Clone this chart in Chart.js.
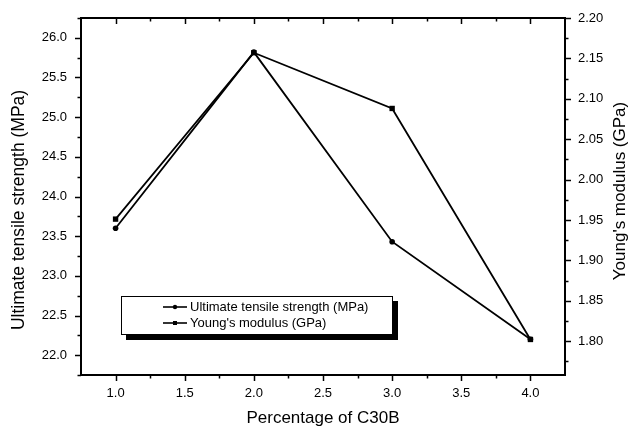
<!DOCTYPE html>
<html><head><meta charset="utf-8">
<script src="https://cdn.jsdelivr.net/npm/chart.js@4/dist/chart.umd.min.js"></script>
<style>html,body{margin:0;padding:0;background:#fff}#wrap{width:632px;height:430px;position:relative}</style>
</head><body><div id="wrap"><canvas id="c" width="632" height="430"></canvas></div>
<script>
const categories = [1.0, 2.0, 3.0, 4.0];
const tensileStrength = [23.6, 25.82, 23.43, 22.2];
const youngsModulus = [1.951, 2.157, 2.088, 1.802];
const xTickValues = [1.0, 1.5, 2.0, 2.5, 3.0, 3.5, 4.0];
const leftTickValues = [22.0, 22.5, 23.0, 23.5, 24.0, 24.5, 25.0, 25.5, 26.0];
const rightTickValues = [1.80, 1.85, 1.90, 1.95, 2.00, 2.05, 2.10, 2.15, 2.20];
const seriesNames = ['Ultimate tensile strength (MPa)', "Young's modulus (GPa)"];
const xTitle = 'Percentage of C30B';
const leftTitle = 'Ultimate tensile strength (MPa)';
const rightTitle = "Young's modulus (GPa)";

const FONT = "'Liberation Sans', Arial, sans-serif";

const framePlugin = {
  id: 'frame',
  afterDraw(chart) {
    const ctx = chart.ctx, a = chart.chartArea;
    const sx = chart.scales.x, sy = chart.scales.y, sy2 = chart.scales.y2;
    ctx.save();
    ctx.strokeStyle = '#000';
    const seg = (x1, y1, x2, y2) => { ctx.beginPath(); ctx.moveTo(x1, y1); ctx.lineTo(x2, y2); ctx.stroke(); };
    // top frame line
    ctx.lineWidth = 2;
    seg(a.left - 1, a.top, a.right + 1, a.top);
    ctx.lineWidth = 1.5;
    const MAJ = 6, MIN = 3.5;
    // x ticks (bottom outward, top inward)
    for (let k = Math.ceil(sx.min / 0.25 - 1e-6); k <= Math.floor(sx.max / 0.25 + 1e-6); k++) {
      const v = k * 0.25, px = Math.round(sx.getPixelForValue(v)) + 0.5;
      const L = (k % 2 === 0) ? MAJ : MIN;
      if (px < a.left + 1 || px > a.right - 1) continue;
      seg(px, a.bottom, px, a.bottom + L);
      seg(px, a.top, px, a.top + L);
    }
    // left ticks outward
    for (let k = Math.ceil(sy.min / 0.25 - 1e-6); k <= Math.floor(sy.max / 0.25 + 1e-6); k++) {
      const v = k * 0.25, py = Math.round(sy.getPixelForValue(v)) + 0.5;
      const L = (k % 2 === 0) ? MAJ : MIN;
      seg(a.left, py, a.left - L, py);
    }
    // right ticks outward
    for (let k = Math.ceil(sy2.min / 0.025 - 1e-6); k <= Math.floor(sy2.max / 0.025 + 1e-6); k++) {
      const v = k * 0.025, py = Math.round(sy2.getPixelForValue(v)) + 0.5;
      const L = (k % 2 === 0) ? MAJ : MIN;
      seg(a.right, py, a.right + L, py);
    }
    // vertical titles (both read bottom-to-top)
    ctx.fillStyle = '#000';
    ctx.textAlign = 'center';
    ctx.textBaseline = 'middle';
    ctx.font = '17.5px ' + FONT;
    ctx.save(); ctx.translate(19, 210); ctx.rotate(-Math.PI / 2); ctx.fillText(leftTitle, 0, 0); ctx.restore();
    ctx.font = '17px ' + FONT;
    ctx.save(); ctx.translate(620, 191); ctx.rotate(-Math.PI / 2); ctx.fillText(rightTitle, 0, 0); ctx.restore();

    // legend with shadow
    const bx = 121, by = 296, bw = 272, bh = 39;
    ctx.fillStyle = '#000';
    ctx.fillRect(bx + 5, by + 5, bw, bh);
    ctx.fillStyle = '#fff';
    ctx.fillRect(bx, by, bw, bh);
    ctx.lineWidth = 1;
    ctx.strokeStyle = '#000';
    ctx.strokeRect(bx + 0.5, by + 0.5, bw - 1, bh - 1);
    ctx.font = '13px ' + FONT;
    ctx.textAlign = 'left';
    ctx.textBaseline = 'middle';
    chart.data.datasets.forEach((ds, i) => {
      const yy = 307 + i * 16;
      ctx.strokeStyle = ds.borderColor;
      ctx.lineWidth = 1.6;
      seg(163, yy, 187, yy);
      ctx.fillStyle = '#000';
      if (ds.pointStyle === 'rect') { ctx.fillRect(173, yy - 2, 4, 4); }
      else { ctx.beginPath(); ctx.arc(175, yy, 2.2, 0, Math.PI * 2); ctx.fill(); }
      ctx.fillStyle = '#000';
      ctx.fillText(ds.label, 190, yy + 0.5);
    });
    ctx.restore();
  }
};

const tickFont = { family: FONT, size: 13 };
const noPad = s => { s.paddingTop = 0; s.paddingBottom = 0; s.paddingLeft = 0; s.paddingRight = 0; };

new Chart(document.getElementById('c'), {
  type: 'line',
  data: {
    datasets: [
      {
        label: seriesNames[0],
        data: categories.map((c, i) => ({ x: c, y: tensileStrength[i] })),
        yAxisID: 'y', borderColor: '#000', backgroundColor: '#000', borderWidth: 1.8,
        pointStyle: 'circle', pointRadius: 2.8, pointBackgroundColor: '#000', pointBorderWidth: 0,
        tension: 0, fill: false
      },
      {
        label: seriesNames[1],
        data: categories.map((c, i) => ({ x: c, y: youngsModulus[i] })),
        yAxisID: 'y2', borderColor: '#000', backgroundColor: '#000', borderWidth: 1.8,
        pointStyle: 'rect', pointRadius: 3.8, pointBackgroundColor: '#000', pointBorderWidth: 0,
        tension: 0, fill: false
      }
    ]
  },
  options: {
    responsive: false, animation: false, devicePixelRatio: 1,
    layout: { padding: { top: 18, left: 0, right: 0, bottom: 0 } },
    plugins: { legend: { display: false }, tooltip: { enabled: false } },
    scales: {
      x: {
        type: 'linear', position: 'bottom', min: 0.75, max: 4.25,
        afterBuildTicks: s => { s.ticks = xTickValues.map(v => ({ value: v })); },
        afterFit: s => { s.height = 55; noPad(s); },
        grid: { display: false, drawTicks: false },
        border: { display: true, color: '#000', width: 2 },
        ticks: { font: tickFont, color: '#000', padding: 11, callback: v => Number(v).toFixed(1), maxRotation: 0, autoSkip: false },
        title: { display: true, text: xTitle, font: { family: FONT, size: 17 }, color: '#000', padding: { top: 0, bottom: 1 } }
      },
      y: {
        type: 'linear', position: 'left', min: 21.75, max: 26.25,
        afterBuildTicks: s => { s.ticks = leftTickValues.map(v => ({ value: v })); },
        afterFit: s => { s.width = 81; noPad(s); },
        grid: { display: false, drawTicks: false },
        border: { display: true, color: '#000', width: 2 },
        ticks: { font: tickFont, color: '#000', padding: 14, callback: v => Number(v).toFixed(1), autoSkip: false }
      },
      y2: {
        type: 'linear', position: 'right', min: 1.758, max: 2.20,
        afterBuildTicks: s => { s.ticks = rightTickValues.map(v => ({ value: v })); },
        afterFit: s => { s.width = 67; noPad(s); },
        grid: { display: false, drawTicks: false },
        border: { display: true, color: '#000', width: 2 },
        ticks: { font: tickFont, color: '#000', padding: 13, callback: v => Number(v).toFixed(2), autoSkip: false }
      }
    }
  },
  plugins: [framePlugin]
});
</script>
</body></html>
